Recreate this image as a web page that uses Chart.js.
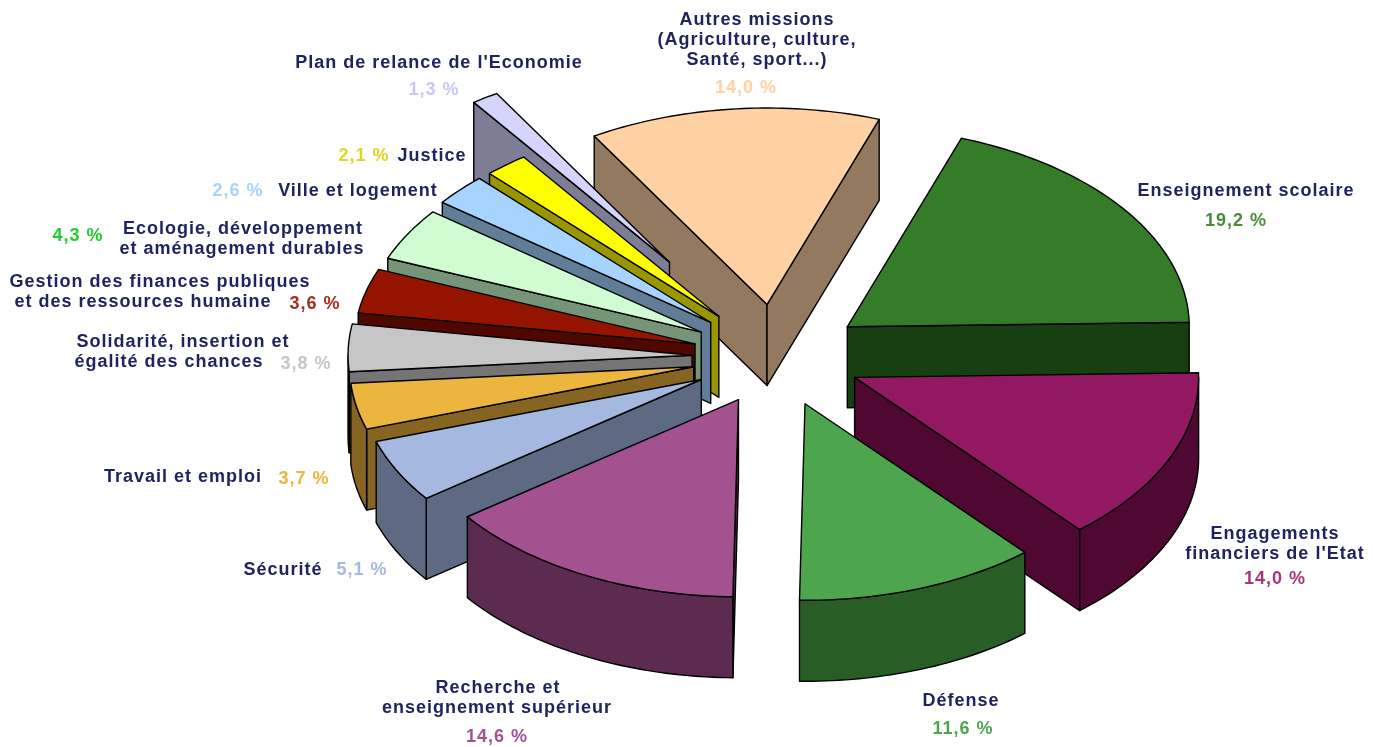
<!DOCTYPE html>
<html lang="fr">
<head>
<meta charset="utf-8">
<title>Budget de l'Etat</title>
<script src="https://cdn.jsdelivr.net/npm/chart.js@4/dist/chart.umd.js"></script>
<style>
    html, body { margin: 0; padding: 0; background: #fff; }
    #pie { display: block; filter: blur(0.4px); }
</style>
</head>
<body>
<canvas id="pie" width="1380" height="747"></canvas>
<script>
// ===== DATA =====
const categories = [
    ['Enseignement scolaire'],
    ['Engagements', "financiers de l'Etat"],
    ['Défense'],
    ['Recherche et', 'enseignement supérieur'],
    ['Sécurité'],
    ['Travail et emploi'],
    ['Solidarité, insertion et', 'égalité des chances'],
    ['Gestion des finances publiques', 'et des ressources humaine'],
    ['Ecologie, développement', 'et aménagement durables'],
    ['Ville et logement'],
    ['Justice'],
    ["Plan de relance de l'Economie"],
    ['Autres missions', '(Agriculture, culture,', 'Santé, sport...)']
];
const shares = [19.2, 14.0, 11.6, 14.6, 5.1, 3.7, 3.8, 3.6, 4.3, 2.6, 2.1, 1.3, 14.0];

// ===== STYLE =====
const topColors = ['#347c27', '#921862', '#4da64e', '#a45190', '#a5b9e0', '#ecb63e', '#c6c6c6',
    '#941400', '#d1fcd1', '#a6d4ff', '#ffff00', '#d4d4fc', '#ffd1a3'];
const sideColors = ['#183f12', '#4f0832', '#285e26', '#5d2b50', '#5d6a82', '#866422', '#757575',
    '#500700', '#769477', '#607e98', '#9a9600', '#7d7d96', '#93795f'];
const valueColors = ['#4a8a3a', '#a8357a', '#4da64e', '#a45190', '#a5b9e0', '#ecb63e', '#c6c6c6',
    '#a82c1c', '#1ecf2a', '#a6d4ff', '#e0d820', '#c8c8f8', '#ffd1a3'];

const SQUASH = 0.585;
const DEPTH = 81;
const explode = [88, 86, 85, 82, 84, 84, 84, 84, 86, 88, 90, 194, 90];
const sliceRadius = [342, 344, 336, 337, 342, 344, 344, 341, 338, 338, 335, 336, 336];

// centre x of each text line, first line y, then value x, y
const labelPos = [
    [[1246], 191, 1236, 221],
    [[1275, 1275], 534, 1275, 579],
    [[961], 701, 963, 729],
    [[498, 497], 688, 497, 737],
    [[283], 570, 362, 570],
    [[183], 477, 304, 479],
    [[183, 169], 342, 306, 364],
    [[160, 143], 282, 315, 304],
    [[243, 242], 229, 78, 236],
    [[358], 191, 238, 191],
    [[432], 156, 364, 156],
    [[439], 63, 434, 90],
    [[757, 757, 757], 20, 746, 88]
];

// ===== 3D PIE PLUGIN =====
function tracePoly(ctx, pts) {
    ctx.beginPath();
    pts.forEach(function (p, i) {
        if (i === 0) ctx.moveTo(p[0], p[1]);
        else ctx.lineTo(p[0], p[1]);
    });
    ctx.closePath();
}

function rimPoints(place, from, to) {
    const pts = [];
    const steps = Math.max(2, Math.ceil((to - from) / 0.02));
    for (let s = 0; s <= steps; s++) {
        pts.push(place(from + (to - from) * s / steps));
    }
    return pts;
}

const pie3d = {
    id: 'pie3d',
    afterDatasetsUpdate(chart) {
        chart.getDatasetMeta(0).data.forEach(function (arc, i) {
            arc.outerRadius = sliceRadius[i];
        });
    },
    beforeDatasetsDraw(chart) {
        const ctx = chart.ctx;
        const arcs = chart.getDatasetMeta(0).data;
        const order = arcs.map(function (a, i) { return i; });
        const mid = function (a) { return (a.startAngle + a.endAngle) / 2; };
        // back to front
        order.sort(function (a, b) { return Math.sin(mid(arcs[a])) - Math.sin(mid(arcs[b])); });

        order.forEach(function (i) {
            const arc = arcs[i];
            const m = mid(arc);
            const dx = explode[i] * Math.cos(m);
            const dy = explode[i] * Math.sin(m);
            const r = arc.outerRadius;
            const place = function (a) {
                return [arc.x + dx + r * Math.cos(a), arc.y + SQUASH * (dy + r * Math.sin(a))];
            };
            const apex = [arc.x + dx, arc.y + SQUASH * dy];
            const down = function (p) { return [p[0], p[1] + DEPTH]; };
            const s = arc.startAngle;
            const e = arc.endAngle;

            ctx.save();
            ctx.lineWidth = 1.4;
            ctx.lineJoin = 'round';
            ctx.strokeStyle = '#000';
            ctx.fillStyle = sideColors[i];

            const wall = function (pts) {
                tracePoly(ctx, pts);
                ctx.fill();
                ctx.stroke();
            };
            if (Math.cos(s) < 0) wall([apex, place(s), down(place(s)), down(apex)]);
            if (Math.cos(e) > 0) wall([apex, place(e), down(place(e)), down(apex)]);

            // outer wall, only the part turned to the viewer
            for (let k = 0; k <= 2; k += 2) {
                const from = Math.max(s, k * Math.PI);
                const to = Math.min(e, (k + 1) * Math.PI);
                if (to > from) {
                    const rim = rimPoints(place, from, to);
                    wall(rim.concat(rim.slice().reverse().map(down)));
                }
            }

            // top face
            ctx.save();
            ctx.translate(arc.x, arc.y);
            ctx.scale(1, SQUASH);
            ctx.translate(-arc.x + dx, -arc.y + dy);
            arc.draw(ctx);
            ctx.restore();

            tracePoly(ctx, [apex].concat(rimPoints(place, s, e)));
            ctx.stroke();
            ctx.restore();
        });
        return false;
    },
    afterDraw(chart) {
        const ctx = chart.ctx;
        ctx.save();
        ctx.font = 'bold 18px "Liberation Sans", Arial, sans-serif';
        ctx.letterSpacing = '1px';
        ctx.textAlign = 'center';
        ctx.textBaseline = 'middle';
        categories.forEach(function (lines, i) {
            const pos = labelPos[i];
            ctx.fillStyle = '#1f2460';
            lines.forEach(function (line, n) {
                ctx.fillText(line, pos[0][n], pos[1] + n * 20);
            });
            ctx.fillStyle = valueColors[i];
            ctx.fillText(shares[i].toFixed(1).replace('.', ',') + ' %', pos[2], pos[3]);
        });
        ctx.restore();
    }
};

// ===== CHART =====
new Chart(document.getElementById('pie'), {
    type: 'pie',
    plugins: [pie3d],
    data: {
        labels: categories.map(function (c) { return c.join(' '); }),
        datasets: [{
            data: shares,
            backgroundColor: topColors,
            borderWidth: 0,
            hoverOffset: 0
        }]
    },
    options: {
        responsive: false,
        animation: false,
        rotation: 19.5,
        radius: 336,
        layout: { padding: { left: 172, bottom: 33 } },
        plugins: {
            legend: { display: false },
            tooltip: { enabled: false }
        }
    }
});
</script>
</body>
</html>
